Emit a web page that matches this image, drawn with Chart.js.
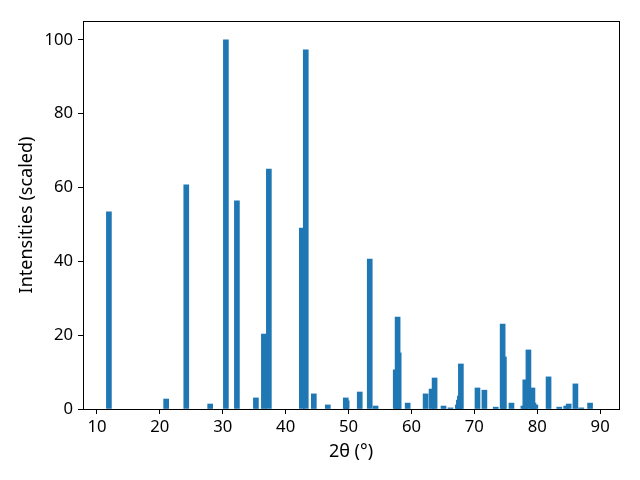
<!DOCTYPE html>
<html>
<head>
<meta charset="utf-8">
<script src="https://cdn.jsdelivr.net/npm/chart.js@4"></script>
<style>
  body { margin: 0; background: #fff; }
  canvas { display: block; }
</style>
</head>
<body>
<canvas id="grafico" width="640" height="480"></canvas>
<script>
// peak positions (2theta, degrees) and scaled intensities
const posicoes = [11.9, 21.0, 24.2, 28.0, 30.5, 32.25, 35.27, 36.54, 37.33, 42.57,
  43.2, 44.48, 46.7, 49.56, 49.7, 51.78, 53.37, 54.3, 57.5, 57.8,
  57.97, 59.4, 62.25, 63.2, 63.68, 65.1, 66.2, 67.38, 67.54, 67.7,
  67.86, 70.5, 71.6, 73.4, 74.5, 74.7, 75.9, 77.8, 78.1, 78.6,
  79.24, 79.4, 79.7, 81.8, 83.5, 84.6, 85.0, 86.07, 87.0, 88.4];
const intensidades = [53.4, 2.7, 60.7, 1.35, 100, 56.4, 3.0, 20.3, 65.0, 49.0,
  97.3, 4.1, 1.1, 3.0, 2.2, 4.6, 40.6, 0.8, 10.6, 24.9,
  15.2, 1.6, 4.1, 5.4, 8.4, 0.8, 0.3, 1.1, 2.4, 3.5,
  12.2, 5.7, 5.1, 0.5, 23.0, 14.1, 1.6, 0.8, 7.9, 16.0,
  5.7, 1.6, 1.1, 8.7, 0.5, 0.8, 1.35, 6.8, 0.3, 1.6];
const xTicks = [10, 20, 30, 40, 50, 60, 70, 80, 90];
const yTicks = [0, 20, 40, 60, 80, 100];

Chart.defaults.font.family = "'Noto Sans', 'Open Sans', sans-serif";
Chart.defaults.font.size = 16.67;
Chart.defaults.color = "#000";

// frame around the plot area (all four spines)
const moldura = {
    id: "moldura",
    afterDraw(chart) {
        let a = chart.chartArea;
        let ctx = chart.ctx;
        ctx.save();
        ctx.strokeStyle = "#000";
        ctx.lineWidth = 1;
        ctx.strokeRect(Math.round(a.left) + 0.5, Math.round(a.top) + 0.5,
            Math.round(a.right - a.left), Math.round(a.bottom - a.top));
        ctx.restore();
    }
};

let dados = posicoes.map((p, i) => ({ x: p, y: intensidades[i] }));

new Chart(document.getElementById("grafico").getContext("2d"), {
    type: "bar",
    data: {
        datasets: [{
            data: dados,
            backgroundColor: "#1f77b4",
            borderWidth: 0,
            barThickness: 5
        }]
    },
    options: {
        responsive: false,
        animation: false,
        devicePixelRatio: 1,
        layout: { padding: { top: 21, right: 21, left: 0, bottom: 0 } },
        plugins: {
            legend: { display: false },
            tooltip: { enabled: false }
        },
        scales: {
            x: {
                type: "linear",
                offset: false,
                min: 7.78,
                max: 93.0,
                afterBuildTicks: s => { s.ticks = xTicks.map(v => ({ value: v })); },
                afterFit: s => { s.height = 71; },
                ticks: { padding: 3, autoSkip: false, maxRotation: 0 },
                grid: { offset: false, drawOnChartArea: false, drawTicks: true, tickLength: 5, color: "#000" },
                border: { display: false },
                title: { display: true, text: "2θ (°)", font: { size: 18 }, padding: { top: 0, bottom: 17 } }
            },
            y: {
                min: 0,
                max: 105.1,
                afterBuildTicks: s => { s.ticks = yTicks.map(v => ({ value: v })); },
                afterFit: s => { s.width = 83; },
                ticks: { padding: 5 },
                grid: { drawOnChartArea: false, drawTicks: true, tickLength: 5, color: "#000" },
                border: { display: false },
                title: { display: true, text: "Intensities (scaled)", font: { size: 18 }, padding: { top: 16, bottom: 0 } }
            }
        }
    },
    plugins: [moldura]
});
</script>
</body>
</html>
